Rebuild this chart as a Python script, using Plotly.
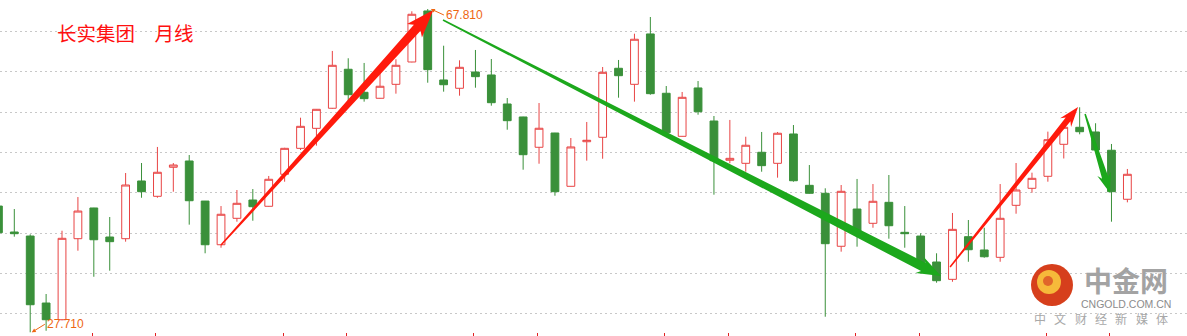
import math
import plotly.graph_objects as go

# ---------------- data (monthly candles) ----------------
months = list(range(72))
opens = [43.37, 40.15, 39.65, 31.34, 29.27, 39.32, 43.13, 39.53, 39.32, 46.48,
         44.58, 48.18, 48.96, 43.99, 38.57, 41.85, 44.12, 43.34, 47.31, 50.53,
         53.01, 55.50, 60.34, 57.48, 56.74, 58.47, 61.24, 67.57, 59.01, 57.98,
         60.00, 59.63, 56.03, 54.42, 50.66, 52.43, 45.82, 51.35, 51.90, 60.46,
         58.47, 64.72, 57.36, 52.02, 58.02, 53.92, 49.05, 48.67, 50.04, 48.67,
         52.31, 45.94, 44.95, 38.38, 43.00, 41.23, 43.83, 40.11, 39.65, 36.43,
         34.28, 39.57, 37.92, 37.01, 43.46, 45.57, 47.06, 51.03, 53.14, 52.56,
         50.29, 44.21]
highs = [43.90, 43.00, 39.86, 32.46, 40.31, 44.49, 43.15, 42.01, 47.47, 48.71,
         50.70, 48.71, 49.70, 44.00, 43.37, 45.36, 45.48, 47.10, 50.60, 54.33,
         55.40, 62.61, 61.70, 61.12, 60.25, 61.58, 67.53, 67.81, 63.26, 61.45,
         62.73, 61.61, 56.77, 54.45, 56.15, 52.45, 51.81, 53.80, 60.62, 61.49,
         64.75, 66.82, 58.26, 57.52, 58.88, 54.54, 54.05, 51.97, 52.56, 52.56,
         53.42, 48.46, 45.57, 45.98, 46.73, 46.10, 47.22, 43.37, 39.99, 37.51,
         42.51, 41.64, 40.68, 46.10, 48.71, 47.51, 52.60, 53.20, 55.62, 53.64,
         51.07, 47.97]
lows = [39.80, 39.57, 27.71, 27.90, 29.20, 37.83, 34.60, 35.35, 38.95, 44.40,
        44.40, 45.15, 41.06, 37.51, 38.20, 41.43, 41.55, 43.30, 46.39, 50.32,
        50.86, 55.45, 55.94, 56.32, 56.70, 57.31, 61.20, 58.67, 57.56, 57.06,
        58.05, 55.82, 52.84, 47.88, 48.62, 44.65, 45.80, 49.00, 49.24, 56.81,
        56.32, 57.18, 52.45, 52.00, 54.70, 44.78, 48.67, 47.63, 47.63, 46.89,
        46.39, 44.90, 29.64, 37.71, 38.33, 40.68, 39.32, 38.20, 36.00, 33.86,
        33.98, 36.46, 36.96, 36.46, 42.42, 45.03, 46.39, 49.27, 52.27, 50.30,
        41.43, 43.83]
closes = [40.06, 39.94, 31.13, 29.27, 39.37, 42.75, 39.19, 38.95, 45.98, 45.15,
          47.56, 48.46, 44.03, 38.57, 42.35, 43.71, 43.29, 46.69, 50.53, 53.26,
          55.37, 60.83, 57.18, 56.69, 58.23, 60.83, 67.16, 60.29, 58.42, 60.58,
          59.42, 56.19, 53.96, 49.74, 53.02, 45.15, 50.70, 51.53, 59.96, 59.54,
          64.06, 57.31, 52.47, 56.86, 55.07, 49.00, 49.29, 50.91, 48.38, 52.40,
          46.51, 44.95, 38.70, 45.20, 40.15, 43.96, 40.93, 39.94, 36.27, 34.11,
          40.48, 37.95, 37.08, 41.85, 45.36, 46.81, 51.60, 53.14, 52.59, 50.32,
          45.15, 47.31]

title_text = "长实集团\u3000月线"
high_label = "67.810"
low_label = "27.710"
grid_levels = [30, 35, 40, 45, 50, 55, 60, 65]

# trend arrows drawn on the chart: (start month, start price) -> (tip month, tip price)
ARROWS = [
    dict(start=(14.0, 38.53), tip=(27.35, 67.70), w0=1.5, w1=9, hl=24, hh=10, color="#ff1a0c"),
    dict(start=(27.96, 66.45), tip=(59.28, 34.69), w0=1.5, w1=9.5, hl=20, hh=9, color="#1ca81c"),
    dict(start=(59.85, 35.81), tip=(67.90, 55.66), w0=1.5, w1=6, hl=16, hh=7, color="#ff1a0c"),
    dict(start=(68.34, 54.79), tip=(69.91, 44.99), w0=1.5, w1=6.5, hl=16, hh=7, color="#1ca81c"),
]

# ---------------- layout geometry ----------------
W, H = 1187, 336
XR = [0.10, 74.75]
YR = [27.25, 68.93]


def to_px(k, p):
    return ((k - XR[0]) / (XR[1] - XR[0]) * W, (YR[1] - p) / (YR[1] - YR[0]) * H)


def to_data(x, y):
    return (XR[0] + x / W * (XR[1] - XR[0]), YR[1] - y / H * (YR[1] - YR[0]))


def arrow_path(a):
    sx, sy = to_px(*a["start"])
    tx, ty = to_px(*a["tip"])
    dx, dy = tx - sx, ty - sy
    L = math.hypot(dx, dy)
    ux, uy = dx / L, dy / L
    nx, ny = -uy, ux
    bx, by = tx - ux * a["hl"], ty - uy * a["hl"]
    cx, cy = bx - ux * 4, by - uy * 4
    w0, w1, hh = a["w0"] / 2, a["w1"] / 2, a["hh"]
    pts = [
        (sx + nx * w0, sy + ny * w0),
        (bx + nx * w1, by + ny * w1),
        (cx + nx * hh, cy + ny * hh),
        (tx, ty),
        (cx - nx * hh, cy - ny * hh),
        (bx - nx * w1, by - ny * w1),
        (sx - nx * w0, sy - ny * w0),
    ]
    d = [to_data(x, y) for x, y in pts]
    return "M " + " L ".join(f"{x:.4f},{y:.4f}" for x, y in d) + " Z"


fig = go.Figure()
fig.add_trace(go.Candlestick(
    x=months, open=opens, high=highs, low=lows, close=closes,
    increasing=dict(line=dict(color="#e84444", width=1), fillcolor="#ffffff"),
    decreasing=dict(line=dict(color="#3a903a", width=1), fillcolor="#3a903a"),
    whiskerwidth=0, showlegend=False, hoverinfo="skip",
))

shapes = []
for a in ARROWS:
    shapes.append(dict(type="path", xref="x", yref="y", path=arrow_path(a),
                       fillcolor=a["color"], line=dict(width=0), layer="above"))


def paper(x, y):
    return x / W, 1 - y / H


# logo circle
lx0, ly0 = paper(1031, 264)
lx1, ly1 = paper(1073, 306)
shapes.append(dict(type="circle", xref="paper", yref="paper", x0=lx0, y0=ly1, x1=lx1, y1=ly0,
                   fillcolor="#d63f1c", line=dict(width=0), layer="above"))
ix0, iy0 = paper(1037, 270)
ix1, iy1 = paper(1061, 294)
shapes.append(dict(type="circle", xref="paper", yref="paper", x0=ix0, y0=iy1, x1=ix1, y1=iy0,
                   fillcolor="#f6b93a", line=dict(width=0), layer="above"))
jx0, jy0 = paper(1043, 276)
jx1, jy1 = paper(1053, 286)
shapes.append(dict(type="circle", xref="paper", yref="paper", x0=jx0, y0=jy1, x1=jx1, y1=jy0,
                   fillcolor="#e0652a", line=dict(width=0), layer="above"))

annotations = []
tx, ty = paper(55, 33)
annotations.append(dict(xref="paper", yref="paper", x=tx, y=ty, xanchor="left", yanchor="middle",
                        text=title_text, showarrow=False,
                        font=dict(family="Noto Sans CJK SC", size=19.5, color="#ff1010")))

i_hi = highs.index(max(highs))
i_lo = lows.index(min(lows))
annotations.append(dict(x=months[i_hi] + 0.2, y=max(highs), text=high_label, showarrow=True,
                        ax=13, ay=6, xanchor="left", yanchor="middle",
                        arrowhead=2, arrowsize=0.8, arrowwidth=1, arrowcolor="#ee6611",
                        font=dict(family="Liberation Sans", size=12, color="#ee6611")))
annotations.append(dict(x=months[i_lo] + 0.1, y=min(lows), text=low_label, showarrow=True,
                        ax=13, ay=-8, xanchor="left", yanchor="middle",
                        arrowhead=2, arrowsize=0.8, arrowwidth=1, arrowcolor="#ee6611",
                        font=dict(family="Liberation Sans", size=12, color="#ee6611")))

# logo texts
gx, gy = paper(1126, 280)
annotations.append(dict(xref="paper", yref="paper", x=gx, y=gy, xanchor="center", yanchor="middle",
                        text="<b>中金网</b>", showarrow=False,
                        font=dict(family="Noto Sans CJK SC", size=28, color="#a3a3a3")))
cx, cy = paper(1126, 304)
annotations.append(dict(xref="paper", yref="paper", x=cx, y=cy, xanchor="center", yanchor="middle",
                        text="CNGOLD.COM.CN", showarrow=False, borderpad=0,
                        font=dict(family="Liberation Sans", size=10.5, color="#8c8c8c")))
for j, ch in enumerate("中文财经新媒体"):
    sx, sy = paper(1040 + j * 20.3, 318.5)
    annotations.append(dict(xref="paper", yref="paper", x=sx, y=sy, xanchor="center", yanchor="middle",
                            text=ch, showarrow=False, borderpad=0,
                            font=dict(family="Noto Sans CJK SC", size=12, color="#a8a8a8")))

tick_months = [k - 0.1 for k in months if k % 12 in (6, 10)]

fig.update_layout(
    width=W, height=H,
    margin=dict(l=0, r=0, t=0, b=0),
    paper_bgcolor="#ffffff", plot_bgcolor="#ffffff",
    shapes=shapes, annotations=annotations,
    showlegend=False,
    xaxis=dict(range=XR, rangeslider=dict(visible=False), showgrid=False, zeroline=False,
               showline=False, showticklabels=False, ticks="inside", ticklen=3,
               tickcolor="#e02020", tickwidth=1, tickvals=tick_months, fixedrange=True),
    yaxis=dict(range=YR, showgrid=True, gridcolor="#c8c8c8", griddash="2px,3px", gridwidth=1,
               tickvals=grid_levels, showticklabels=False, zeroline=False, showline=False,
               ticks="", fixedrange=True),
)

fig.write_html("out.html")
